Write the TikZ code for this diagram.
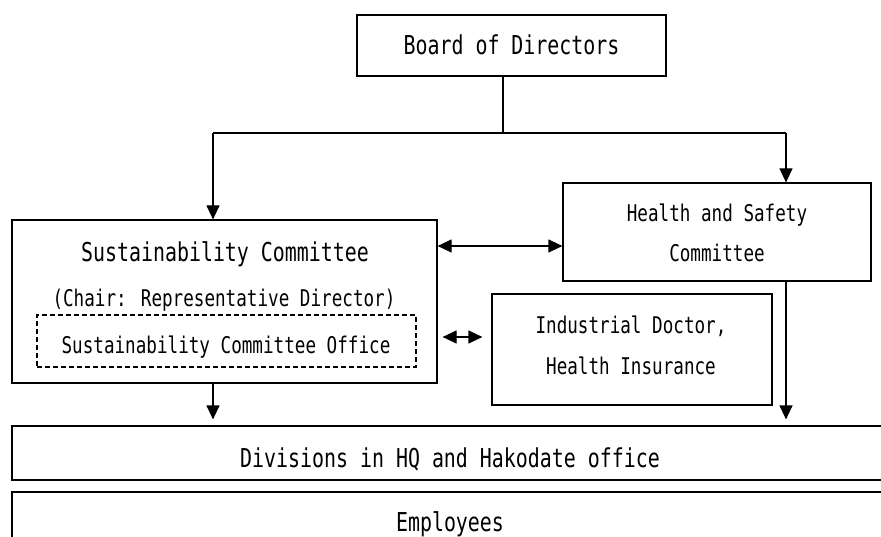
\documentclass[tikz,border=0pt]{standalone}
\usepackage{fontspec}
\setmainfont[FakeStretch=0.766]{DejaVu Sans Mono}
\usetikzlibrary{arrows.meta,positioning}
\tikzset{
    >={Triangle[length=14pt,width=13pt]},
    boks/.style={
           rectangle,
           draw=black, line width=1.2pt,
           inner sep=0pt},
    stiplet/.style={
           boks,
           dash pattern=on 5pt off 3pt},
    stor/.style={
           anchor=base,
           inner sep=0pt,
           font=\fontsize{26}{30}\selectfont},
    lille/.style={
           anchor=base,
           inner sep=0pt,
           font=\fontsize{23}{27}\selectfont},
    pil/.style={
           ->,
           line width=1.2pt}
}
\begin{document}
\begin{tikzpicture}[x=1pt, y=-1pt]
        \useasboundingbox (0,0) rectangle (881,537);
        % boxes
        \node[boks, minimum width=309pt, minimum height=61pt] (B) at (511.5,45.5) {};
        \node[boks, minimum width=308pt, minimum height=98pt] (H) at (717,232) {};
        \node[boks, minimum width=425pt, minimum height=163pt] (S) at (224.5,301.5) {};
        \node[stiplet, minimum width=379pt, minimum height=52pt] (O) at (226.5,341) {};
        \node[boks, minimum width=280pt, minimum height=111pt] (I) at (632,349.5) {};
        \node[boks, minimum width=876pt, minimum height=54pt] (D) at (450,453) {};
        \node[boks, minimum width=876pt, minimum height=60pt] (E) at (450,522) {};
        % texts
        \node[stor] (Btxt) at (511.5,55) {Board of Directors};
        \node[lille] (Htxt) at (717,222) {Health and Safety};
        \node[lille] (Htxt2) at (717,262) {Committee};
        \node[stor] (Stxt) at (225,262) {Sustainability Committee};
        \node[lille] (chair) at (224,307) {(Chair: Representative Director)};
        \node[lille] (Otxt) at (226,353) {Sustainability Committee Office};
        \node[lille] (Itxt) at (631,334) {Industrial Doctor,};
        \node[lille] (Itxt2) at (631,374) {Health Insurance};
        \node[stor] (Dtxt) at (450,467) {Divisions in HQ and Hakodate office};
        \node[stor] (Etxt) at (450,531) {Employees};
        % connectors
        \coordinate (K) at (503,133);
        \coordinate (L) at (213,133);
        \coordinate (R) at (786,133);
        \coordinate (M) at (500,246);
        \coordinate (N) at (460,337);
        \draw[line width=1.2pt] (K |- B.south) -- (K);
        \draw[line width=1.2pt] (L) -- (R);
        \draw[pil] (L) -- (L |- S.north);
        \draw[pil] (R) -- (R |- H.north);
        \draw[pil, <->] (M -| S.east) -- (M -| H.west);
        \draw[pil, <->, shorten <=26pt, shorten >=9pt] (N -| O.east) -- (N -| I.west);
        \draw[pil, shorten >=6pt] (L |- S.south) -- (L |- D.north);
        \draw[pil, shorten >=6pt] (R |- H.south) -- (R |- D.north);
\end{tikzpicture}
\end{document}
